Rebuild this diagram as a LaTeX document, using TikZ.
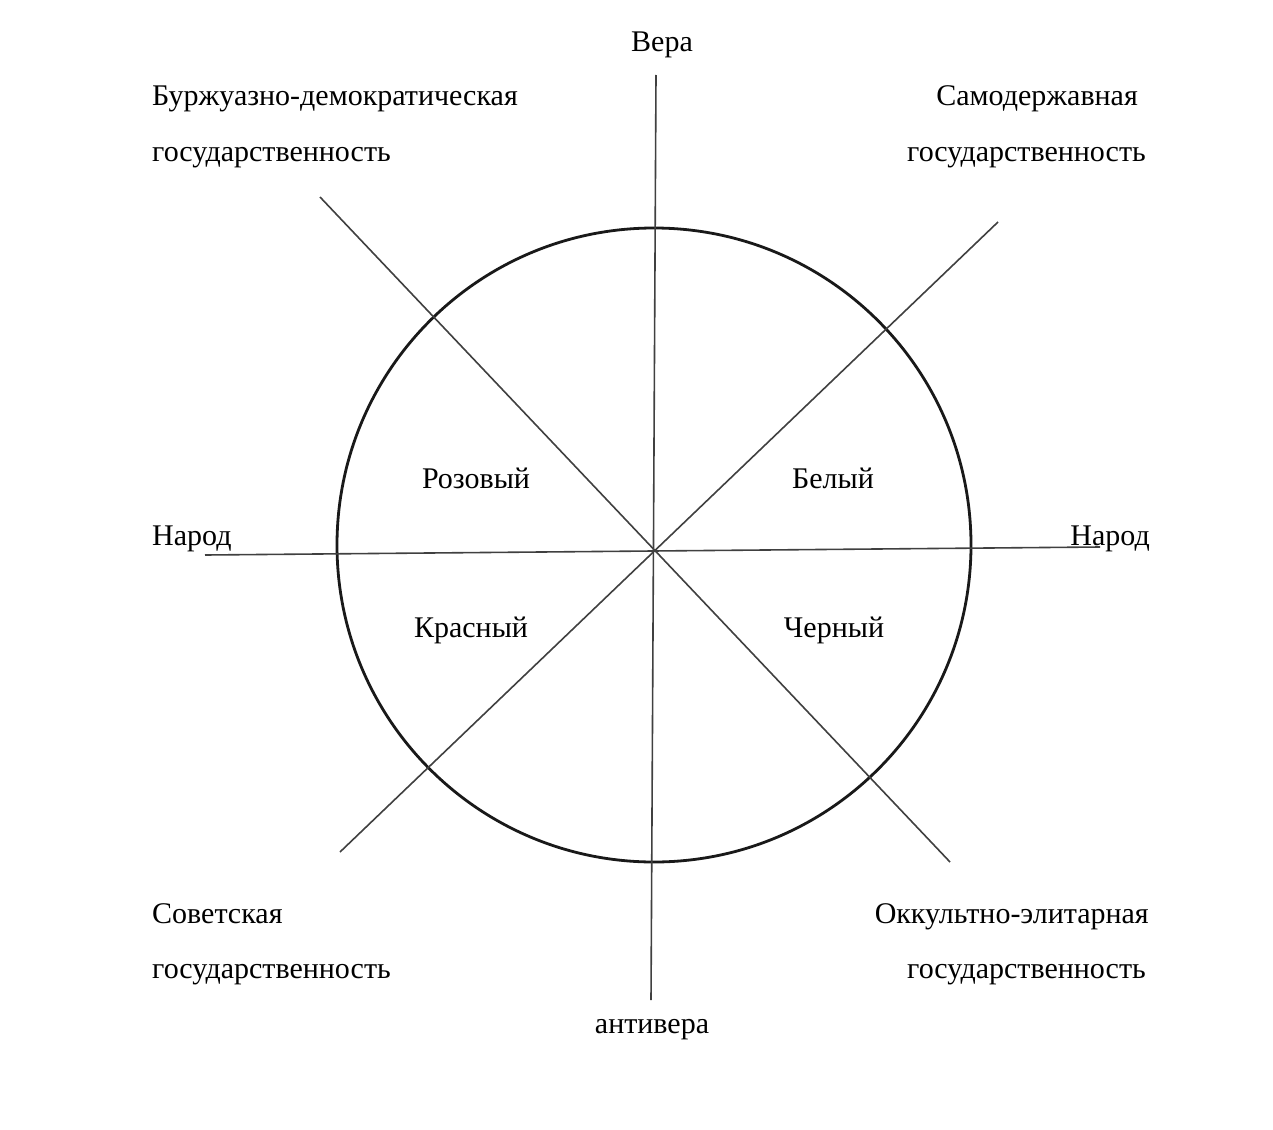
\documentclass[tikz,border=0pt]{standalone}
\usepackage{fontspec}
\setmainfont{Liberation Serif}
\begin{document}
\begin{tikzpicture}[x=1pt,y=-1pt,
  lbl/.style={inner sep=0pt,font=\fontsize{30}{34}\selectfont},
  axis/.style={draw=black!75,line width=1.6pt},
  ring/.style={draw=black!90,line width=2.8pt}]
\useasboundingbox[fill=white] (0,0) rectangle (1273,1129);
% circle
\node[ring,circle,minimum size=634pt,inner sep=0pt] (c) at (654,545) {};
% axis end points
\coordinate (vt) at (656,75);
\coordinate (vb) at (651,1000);
\coordinate (hl) at (205,555);
\coordinate (hr) at (1100,547);
\coordinate (d1a) at (320,197);
\coordinate (d1b) at (950,862);
\coordinate (d2a) at (998,222);
\coordinate (d2b) at (340,852);
\draw[axis] (vt) -- (vb);
\draw[axis] (hl) -- (hr);
\draw[axis] (d1a) -- (d1b);
\draw[axis] (d2a) -- (d2b);
% labels
\node[lbl,anchor=base] (vera) at (662,52) {Вера};
\node[lbl,anchor=base] (antivera) at (652,1033) {антивера};
\node[lbl,anchor=base west] (narodL) at (152,545) {Народ};
\node[lbl,anchor=base east] (narodR) at (1150,545) {Народ};
\node[lbl,anchor=base west] (bd1) at (152,106) {Буржуазно-демократическая};
\node[lbl,anchor=base west] (bd2) at (152,161) {государственность};
\node[lbl,anchor=base east] (sd1) at (1138,106) {Самодержавная};
\node[lbl,anchor=base east] (sd2) at (1146,161) {государственность};
\node[lbl,anchor=base west] (sv1) at (152,923) {Советская};
\node[lbl,anchor=base west] (sv2) at (152,978) {государственность};
\node[lbl,anchor=base east] (oe1) at (1149,923) {Оккультно-элитарная};
\node[lbl,anchor=base east] (oe2) at (1146,978) {государственность};
\node[lbl,anchor=base] (roz) at (476,488) {Розовый};
\node[lbl,anchor=base] (bel) at (833,488) {Белый};
\node[lbl,anchor=base] (kra) at (471,637) {Красный};
\node[lbl,anchor=base] (che) at (834,637) {Черный};
\end{tikzpicture}
\end{document}
